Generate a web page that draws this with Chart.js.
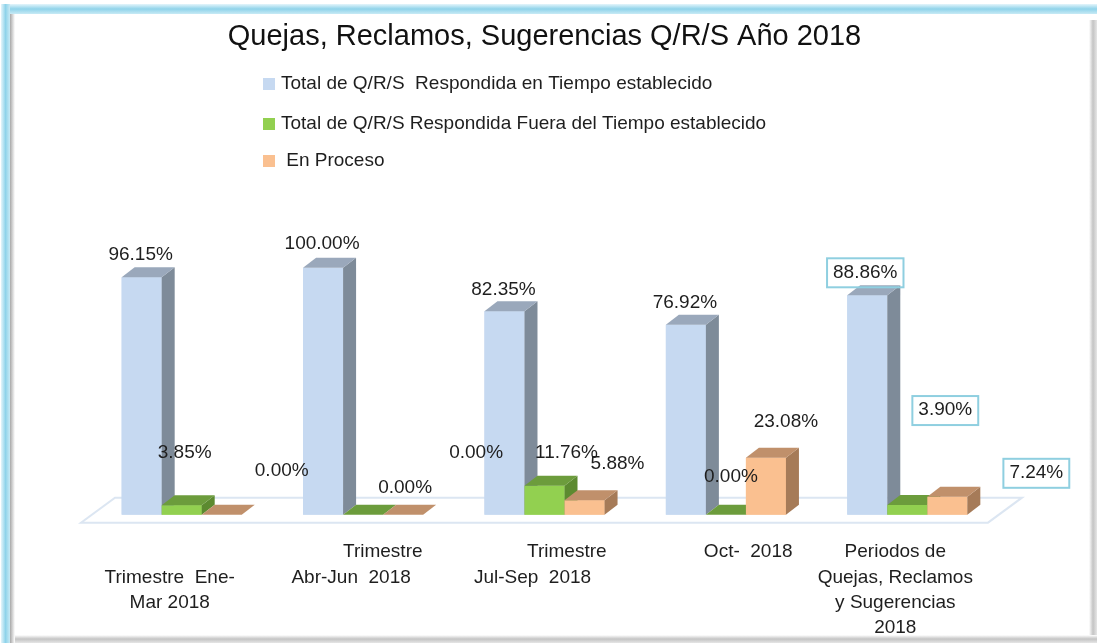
<!DOCTYPE html>
<html>
<head>
    <title>Quejas, Reclamos, Sugerencias Q/R/S Año 2018</title>
    <script src="https://cdn.jsdelivr.net/npm/chart.js"></script>
    <style>
        html, body { margin: 0; padding: 0; background: #fff; }
        #chartDiv { width: 1097px; height: 643px; }
    </style>
</head>
<body>
    <div id="chartDiv">
        <canvas id="qrsChart"></canvas>
    </div>

    <script>
        // periodos (tick labels, wrapped like the Excel original)
        var categories = [
            ['', 'Trimestre  Ene-', 'Mar 2018'],
            ['            Trimestre', 'Abr-Jun  2018'],
            ['             Trimestre', 'Jul-Sep  2018'],
            ['             Oct-  2018'],
            ['Periodos de', 'Quejas, Reclamos', 'y Sugerencias', '2018']
        ];
        var seriesNames = [
            'Total de Q/R/S  Respondida en Tiempo establecido',
            'Total de Q/R/S Respondida Fuera del Tiempo establecido',
            ' En Proceso'
        ];
        var enTiempo = [96.15, 100.00, 82.35, 76.92, 88.86];
        var fueraTiempo = [3.85, 0.00, 11.76, 0.00, 3.90];
        var enProceso = [0.00, 0.00, 5.88, 23.08, 7.24];

        // colores: frente, tapa, lado
        var front = ['#c6d9f1', '#92d050', '#fac090'];
        var topFace = ['#9aa8bb', '#6c9c3c', '#c0906b'];
        var sideFace = ['#7e8b99', '#5c8a30', '#a67b58'];
        var depthX = 13, depthY = -10;

        // where Excel left each data label, relative to the bar top
        var labelShiftX = [[-1, -1, -1, -1, -2], [3, 42, 22, 5, 38], [60, 73, 33, 20, 89]];
        var labelShiftY = [[-23, -24, -22, -22, -23], [-52, -27, -33, -38, -95], [-44, -62, -36, -36, -24]];
        var boxedCategory = 4;

        var fontFamily = '"Liberation Sans", Arial, sans-serif';
        var textColor = '#1e1e1e';

        var framePlugin = {
            id: 'frame',
            beforeDraw: function (chart) {
                var ctx = chart.ctx, w = chart.width, h = chart.height;
                ctx.save();
                ctx.fillStyle = '#ffffff';
                ctx.fillRect(0, 0, w, h);
                // sombra derecha / abajo
                var g = ctx.createLinearGradient(w - 8, 0, w, 0);
                g.addColorStop(0, '#ffffff');
                g.addColorStop(0.5, '#c4c4c4');
                g.addColorStop(1, '#e6e6e6');
                ctx.fillStyle = g;
                ctx.fillRect(w - 8, 20, 8, h - 20);
                g = ctx.createLinearGradient(0, h - 8, 0, h);
                g.addColorStop(0, '#ffffff');
                g.addColorStop(0.5, '#c4c4c4');
                g.addColorStop(1, '#e6e6e6');
                ctx.fillStyle = g;
                ctx.fillRect(14, h - 8, w - 14, 8);
                // borde celeste arriba / izquierda
                g = ctx.createLinearGradient(0, 4, 0, 14);
                g.addColorStop(0, '#e4f5fb');
                g.addColorStop(0.5, '#8fd3ea');
                g.addColorStop(1, '#c8eaf5');
                ctx.fillStyle = g;
                ctx.fillRect(2, 4, w - 2, 10);
                g = ctx.createLinearGradient(1, 0, 10, 0);
                g.addColorStop(0, '#e4f5fb');
                g.addColorStop(0.5, '#8fd3ea');
                g.addColorStop(1, '#c8eaf5');
                ctx.fillStyle = g;
                ctx.fillRect(1, 4, 9, h - 4);
                g = ctx.createLinearGradient(10, 0, 15, 0);
                g.addColorStop(0, '#a8a8a8');
                g.addColorStop(1, '#ffffff');
                ctx.fillStyle = g;
                ctx.fillRect(10, 14, 5, h - 14);
                ctx.restore();
            }
        };

        var floorPlugin = {
            id: 'floor',
            beforeDatasetsDraw: function (chart) {
                var ctx = chart.ctx, a = chart.chartArea;
                ctx.save();
                ctx.beginPath();
                ctx.moveTo(a.left - 10, a.bottom + 8);
                ctx.lineTo(a.right - 10, a.bottom + 8);
                ctx.lineTo(a.right + 24, a.bottom - 17);
                ctx.lineTo(a.left + 24, a.bottom - 17);
                ctx.closePath();
                ctx.fillStyle = '#ffffff';
                ctx.fill();
                ctx.lineWidth = 2;
                ctx.strokeStyle = '#dce6f2';
                ctx.stroke();
                ctx.restore();
            }
        };

        function poly(ctx, pts, color) {
            ctx.beginPath();
            ctx.moveTo(pts[0], pts[1]);
            for (var i = 2; i < pts.length; i += 2) {
                ctx.lineTo(pts[i], pts[i + 1]);
            }
            ctx.closePath();
            ctx.fillStyle = color;
            ctx.fill();
        }

        // redraw each series front to back so the side faces overlap correctly
        var barsPlugin = {
            id: 'bars3d',
            afterDatasetsDraw: function (chart) {
                var ctx = chart.ctx;
                ctx.save();
                chart.data.datasets.forEach(function (ds, d) {
                    chart.getDatasetMeta(d).data.forEach(function (bar) {
                        var p = bar.getProps(['x', 'y', 'base', 'width'], true);
                        var l = p.x - p.width / 2, r = p.x + p.width / 2;
                        bar.draw(ctx);
                        poly(ctx, [r, p.y, r + depthX, p.y + depthY, r + depthX, p.base + depthY, r, p.base], sideFace[d]);
                        poly(ctx, [l, p.y, r, p.y, r + depthX, p.y + depthY, l + depthX, p.y + depthY], topFace[d]);
                    });
                });
                ctx.restore();
            }
        };

        var labelsPlugin = {
            id: 'valueLabels',
            afterDatasetsDraw: function (chart) {
                var ctx = chart.ctx;
                ctx.save();
                ctx.font = '19px ' + fontFamily;
                ctx.textAlign = 'center';
                ctx.textBaseline = 'middle';
                chart.data.datasets.forEach(function (ds, d) {
                    var meta = chart.getDatasetMeta(d);
                    meta.data.forEach(function (bar, i) {
                        var txt = ds.data[i].toFixed(2) + '%';
                        var x = bar.x + labelShiftX[d][i];
                        var y = bar.y + labelShiftY[d][i];
                        if (i === boxedCategory) {
                            var tw = ctx.measureText(txt).width;
                            ctx.lineWidth = 2;
                            ctx.strokeStyle = '#8fcfe0';
                            ctx.strokeRect(x - tw / 2 - 6, y - 14, tw + 12, 29);
                        }
                        ctx.fillStyle = textColor;
                        ctx.fillText(txt, x, y);
                    });
                });
                ctx.restore();
            }
        };

        var legendPlugin = {
            id: 'vLegend',
            afterDraw: function (chart) {
                var ctx = chart.ctx;
                var rows = [84, 124, 161];
                ctx.save();
                ctx.font = '19px ' + fontFamily;
                ctx.textBaseline = 'middle';
                ctx.textAlign = 'left';
                chart.data.datasets.forEach(function (ds, d) {
                    ctx.fillStyle = front[d];
                    ctx.fillRect(263, rows[d] - 6, 12, 12);
                    ctx.fillStyle = textColor;
                    ctx.fillText(ds.label, 281, rows[d]);
                });
                ctx.restore();
            }
        };

        var ctx = document.getElementById('qrsChart');
        var qrsChart = new Chart(ctx, {
            type: 'bar',
            data: {
                labels: categories,
                datasets: [
                    { label: seriesNames[0], data: enTiempo, backgroundColor: front[0] },
                    { label: seriesNames[1], data: fueraTiempo, backgroundColor: front[1] },
                    { label: seriesNames[2], data: enProceso, backgroundColor: front[2] }
                ]
            },
            options: {
                responsive: true,
                maintainAspectRatio: false,
                animation: false,
                datasets: {
                    bar: {
                        barPercentage: 1,
                        categoryPercentage: 0.662,
                        borderWidth: 0
                    }
                },
                layout: {
                    padding: { left: 91, right: 99, top: 0, bottom: -22 }
                },
                scales: {
                    x: {
                        grid: { display: false, drawTicks: false },
                        border: { display: false },
                        ticks: {
                            autoSkip: false,
                            maxRotation: 0,
                            padding: 25,
                            labelOffset: -12,
                            color: textColor,
                            font: { family: fontFamily, size: 19, lineHeight: 1.32 }
                        }
                    },
                    y: {
                        display: false,
                        min: 0,
                        max: 100
                    }
                },
                plugins: {
                    legend: {
                        display: false
                    },
                    tooltip: {
                        enabled: false
                    },
                    title: {
                        display: true,
                        text: 'Quejas, Reclamos, Sugerencias Q/R/S Año 2018',
                        color: '#111111',
                        font: { family: fontFamily, size: 29, weight: 'normal', lineHeight: 1.2 },
                        padding: { top: 20, bottom: 213 }
                    }
                }
            },
            plugins: [framePlugin, floorPlugin, barsPlugin, labelsPlugin, legendPlugin]
        });
    </script>
</body>
</html>
